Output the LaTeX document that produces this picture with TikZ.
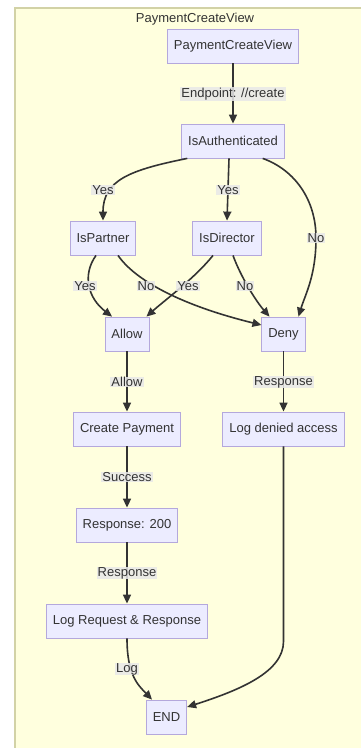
\documentclass[tikz,border=0pt]{standalone}
\usepackage{fontspec}
\setmainfont{Liberation Sans}
\usetikzlibrary{arrows.meta,positioning}
\definecolor{boxfill}{HTML}{ECECFF}
\definecolor{boxline}{HTML}{B4A8DC}
\definecolor{clusterfill}{HTML}{FFFFDE}
\definecolor{clusterline}{HTML}{D2D2A6}
\definecolor{ink}{HTML}{333333}
\definecolor{labelfill}{HTML}{E8E8E8}

\begin{document}
\begin{tikzpicture}[x=1pt,y=-1pt,
  box/.style={draw=boxline,fill=boxfill,line width=0.8pt,minimum height=34pt,
    inner xsep=6.5pt,text=ink,font=\fontsize{13}{15}\selectfont},
  elabel/.style={fill=labelfill,fill opacity=0.85,text opacity=1,inner xsep=1pt,
    inner ysep=0.5pt,text=ink,font=\fontsize{13}{15}\selectfont},
  flow/.style={draw=ink,line width=1.6pt,-{Triangle[length=9pt,width=8pt]}}]
  \useasboundingbox (0,0) rectangle (361,748);

  % Cluster
  \fill[clusterfill] (15,8) rectangle (361,748);
  \draw[clusterline,line width=1.2pt] (15,748) -- (15,8) -- (361,8);
  \node[text=ink,font=\fontsize{13}{15}\selectfont] (title) at (195,19) {PaymentCreateView};

  % Boxes
  \node[box] (pcv) at (233,46) {PaymentCreateView};
  \node[box] (auth) at (233,141) {IsAuthenticated};
  \node[box] (partner) at (103,238) {IsPartner};
  \node[box] (director) at (227,238) {IsDirector};
  \node[box] (allow) at (127,334) {Allow};
  \node[box] (deny) at (283.5,334) {Deny};
  \node[box] (create) at (127,429) {Create Payment};
  \node[box] (ldeny) at (283.5,429) {Log denied access};
  \node[box] (resp) at (127,525) {Response: 200};
  \node[box] (logrr) at (127,621) {Log Request \& Response};
  \node[box] (fin) at (166.5,717) {END};

  % Connectors
  \draw[flow] (pcv) -- (auth);
  \draw[flow] ([xshift=6pt]auth.south west) .. controls (130,170) and (103,180) .. (partner.north);
  \draw[flow] ([xshift=-4pt]auth.south) -- (director.north);
  \draw[flow] ([xshift=-22pt]auth.south east) .. controls (295,170) and (316,200) .. (316,238)
    .. controls (316,276) and (305,295) .. ([xshift=15pt]deny.north);
  \draw[flow] ([xshift=-7pt]partner.south) .. controls (82,275) and (88,298) .. ([xshift=-15pt]allow.north);
  \draw[flow] ([xshift=15pt]partner.south) .. controls (135,280) and (180,305) .. ([yshift=9pt]deny.west);
  \draw[flow] ([xshift=-14pt]director.south) .. controls (195,278) and (165,300) .. ([xshift=-3pt]allow.north east);
  \draw[flow] ([xshift=6pt]director.south) .. controls (240,275) and (255,300) .. ([xshift=-14pt]deny.north);
  \draw[flow] (allow) -- (create);
  \draw[flow] (deny) -- (ldeny);
  \draw[flow] (create) -- (resp);
  \draw[flow] (resp) -- (logrr);
  \draw[flow] (logrr.south) .. controls (127,675) and (138,685) .. ([xshift=-14.5pt]fin.north);
  \draw[flow] (ldeny.south) -- ++(0,195) .. controls (283.5,672) and (240,690) .. ([yshift=10pt]fin.east);

  % Connector labels
  \node[elabel] (lendpoint) at (233,94) {Endpoint: //create};
  \node[elabel] (lyesp) at (103,190) {Yes};
  \node[elabel] (lyesd) at (228,190) {Yes};
  \node[elabel] (lnoauth) at (316,238) {No};
  \node[elabel] (lyespa) at (85,286) {Yes};
  \node[elabel] (lnopd) at (146,286) {No};
  \node[elabel] (lyesda) at (188,286) {Yes};
  \node[elabel] (lnodd) at (245,286) {No};
  \node[elabel] (lallow) at (127,382) {Allow};
  \node[elabel] (lresp) at (283.5,382) {Response};
  \node[elabel] (lsuccess) at (127,477) {Success};
  \node[elabel] (lresp200) at (127,573) {Response};
  \node[elabel] (llog) at (127,669) {Log};
\end{tikzpicture}
\end{document}
